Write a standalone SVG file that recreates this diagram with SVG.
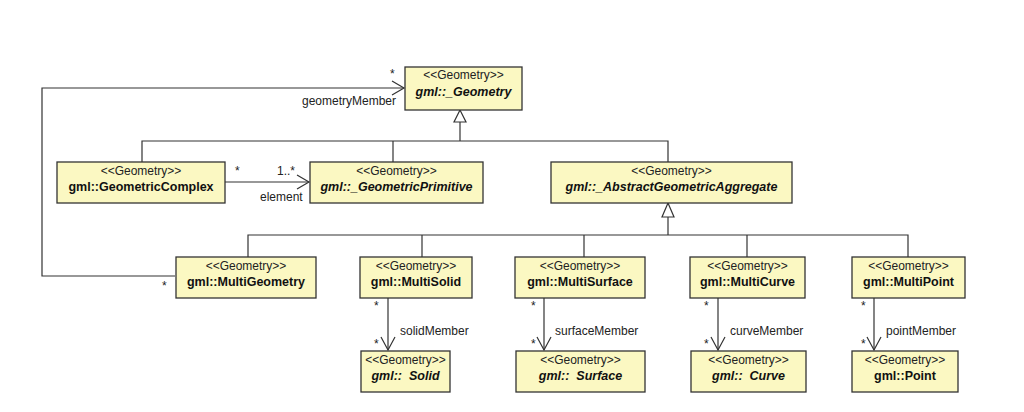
<svg xmlns="http://www.w3.org/2000/svg" width="1024" height="412" viewBox="0 0 1024 412">
<style>
.box{fill:#fbf8c2;stroke:#333;stroke-width:1.3}
.st{font-family:"Liberation Sans",Arial,sans-serif;font-size:12px;fill:#222;text-anchor:middle}
.nm{font-family:"Liberation Sans",Arial,sans-serif;font-size:12.5px;font-weight:bold;fill:#111;text-anchor:middle}
.it{font-style:italic}
.lbl{font-family:"Liberation Sans",Arial,sans-serif;font-size:12px;fill:#222}
.ln{fill:none;stroke:#333;stroke-width:1.2}
.tri{fill:#fff;stroke:#333;stroke-width:1.2}
</style>
<rect width="1024" height="412" fill="#fff"/>
<g id="connectors">
  <polyline class="ln" points="142,162 142,141 668,141 668,162"/>
  <line class="ln" x1="393" y1="141" x2="393" y2="162"/>
  <line class="ln" x1="460" y1="122" x2="460" y2="141"/>
  <polygon class="tri" points="460,110 454,122 466,122"/>
  <polyline class="ln" points="248,257 248,235 908,235 908,257"/>
  <line class="ln" x1="422" y1="235" x2="422" y2="257"/>
  <line class="ln" x1="584" y1="235" x2="584" y2="257"/>
  <line class="ln" x1="747" y1="235" x2="747" y2="257"/>
  <line class="ln" x1="668" y1="217" x2="668" y2="235"/>
  <polygon class="tri" points="668,203 662,217 674,217"/>
  <polyline class="ln" points="175,276 42,276 42,88 404,88"/>
  <polyline class="ln" points="392,81 404,88 392,95"/>
  <text class="lbl" x="390" y="78">*</text>
  <text class="lbl" x="396" y="105" text-anchor="end">geometryMember</text>
  <text class="lbl" x="162" y="290">*</text>
  <line class="ln" x1="225" y1="182" x2="309" y2="182"/>
  <polyline class="ln" points="297,175 309,182 297,189"/>
  <text class="lbl" x="235" y="175">*</text>
  <text class="lbl" x="277" y="175">1..*</text>
  <text class="lbl" x="260" y="201">element</text>
  <line class="ln" x1="388" y1="298" x2="388" y2="350"/>
  <polyline class="ln" points="381,337 388,350 395,337"/>
  <text class="lbl" x="374" y="310">*</text>
  <text class="lbl" x="374" y="348">*</text>
  <text class="lbl" x="400" y="335">solidMember</text>
  <line class="ln" x1="544" y1="298" x2="544" y2="350"/>
  <polyline class="ln" points="537,337 544,350 551,337"/>
  <text class="lbl" x="531" y="310">*</text>
  <text class="lbl" x="531" y="348">*</text>
  <text class="lbl" x="555" y="335">surfaceMember</text>
  <line class="ln" x1="718" y1="298" x2="718" y2="350"/>
  <polyline class="ln" points="711,337 718,350 725,337"/>
  <text class="lbl" x="704" y="310">*</text>
  <text class="lbl" x="704" y="348">*</text>
  <text class="lbl" x="730" y="335">curveMember</text>
  <line class="ln" x1="874" y1="298" x2="874" y2="350"/>
  <polyline class="ln" points="867,337 874,350 881,337"/>
  <text class="lbl" x="861" y="310">*</text>
  <text class="lbl" x="861" y="348">*</text>
  <text class="lbl" x="886" y="335">pointMember</text>
</g>
<g id="Geometry">
  <rect class="box" x="405" y="67" width="117" height="43"/>
  <text class="st" x="463.5" y="79">&lt;&lt;Geometry&gt;&gt;</text>
  <text class="nm it" x="463.5" y="96">gml::_Geometry</text>
</g>
<g id="GeometricComplex">
  <rect class="box" x="57" y="162" width="168" height="41"/>
  <text class="st" x="141" y="175">&lt;&lt;Geometry&gt;&gt;</text>
  <text class="nm" x="141" y="191">gml::GeometricComplex</text>
</g>
<g id="GeometricPrimitive">
  <rect class="box" x="310" y="162" width="173" height="41"/>
  <text class="st" x="396.5" y="175">&lt;&lt;Geometry&gt;&gt;</text>
  <text class="nm it" x="396.5" y="191">gml::_GeometricPrimitive</text>
</g>
<g id="AbstractGeometricAggregate">
  <rect class="box" x="551" y="162" width="241" height="41"/>
  <text class="st" x="671.5" y="175">&lt;&lt;Geometry&gt;&gt;</text>
  <text class="nm it" x="671.5" y="191">gml::_AbstractGeometricAggregate</text>
</g>
<g id="MultiGeometry">
  <rect class="box" x="176" y="257" width="140" height="41"/>
  <text class="st" x="246" y="270">&lt;&lt;Geometry&gt;&gt;</text>
  <text class="nm" x="246" y="286">gml::MultiGeometry</text>
</g>
<g id="MultiSolid">
  <rect class="box" x="360" y="257" width="112" height="41"/>
  <text class="st" x="416" y="270">&lt;&lt;Geometry&gt;&gt;</text>
  <text class="nm" x="416" y="286">gml::MultiSolid</text>
</g>
<g id="MultiSurface">
  <rect class="box" x="515" y="257" width="130" height="41"/>
  <text class="st" x="580" y="270">&lt;&lt;Geometry&gt;&gt;</text>
  <text class="nm" x="580" y="286">gml::MultiSurface</text>
</g>
<g id="MultiCurve">
  <rect class="box" x="690" y="257" width="115" height="41"/>
  <text class="st" x="747.5" y="270">&lt;&lt;Geometry&gt;&gt;</text>
  <text class="nm" x="747.5" y="286">gml::MultiCurve</text>
</g>
<g id="MultiPoint">
  <rect class="box" x="852" y="257" width="113" height="41"/>
  <text class="st" x="908.5" y="270">&lt;&lt;Geometry&gt;&gt;</text>
  <text class="nm" x="908.5" y="286">gml::MultiPoint</text>
</g>
<g id="Solid">
  <rect class="box" x="361" y="351" width="89" height="41"/>
  <text class="st" x="405.5" y="364">&lt;&lt;Geometry&gt;&gt;</text>
  <text class="nm it" x="405.5" y="380" xml:space="preserve">gml::  Solid</text>
</g>
<g id="Surface">
  <rect class="box" x="516" y="351" width="129" height="41"/>
  <text class="st" x="580.5" y="364">&lt;&lt;Geometry&gt;&gt;</text>
  <text class="nm it" x="580.5" y="380" xml:space="preserve">gml::  Surface</text>
</g>
<g id="Curve">
  <rect class="box" x="691" y="351" width="115" height="41"/>
  <text class="st" x="748.5" y="364">&lt;&lt;Geometry&gt;&gt;</text>
  <text class="nm it" x="748.5" y="380" xml:space="preserve">gml::  Curve</text>
</g>
<g id="Point">
  <rect class="box" x="852" y="351" width="106" height="41"/>
  <text class="st" x="905" y="364">&lt;&lt;Geometry&gt;&gt;</text>
  <text class="nm" x="905" y="380">gml::Point</text>
</g>
</svg>
